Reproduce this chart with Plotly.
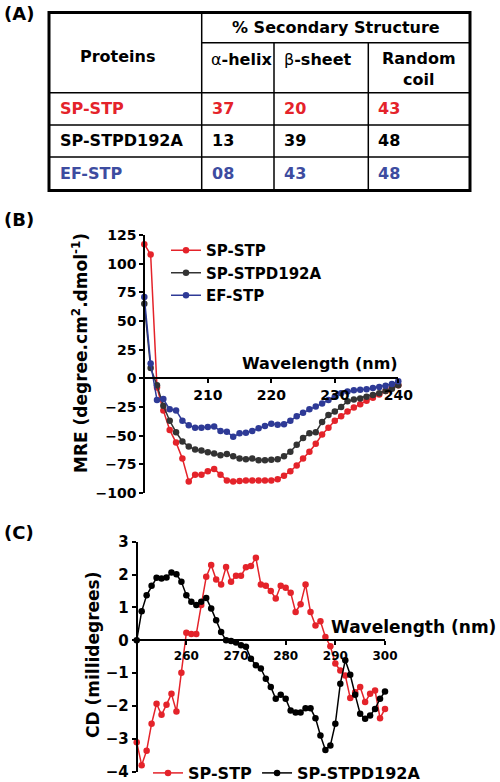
import plotly.graph_objects as go

# ---------------- data ----------------
# (A) table
proteins = ["SP-STP", "SP-STPD192A", "EF-STP"]
alpha_helix = ["37", "13", "08"]
beta_sheet = ["20", "39", "43"]
random_coil = ["43", "48", "48"]

# (B) far-UV CD, MRE
wl_b = list(range(200, 241))
sp_stp_b = [117, 108, -8, -28, -45, -56, -70, -90, -84, -84, -81, -79, -84, -89, -90, -89.5,
            -89, -89, -89, -89, -89, -88, -85, -81, -76, -70, -64, -57, -49, -43, -37, -33,
            -29, -25.5, -22.5, -19.5, -17, -14, -11, -8, -6]
sp_stpd_b = [65, 9, -6, -24, -37, -47, -55, -59.5, -62, -63, -64.5, -65.5, -67, -66, -68, -70,
             -70.5, -70, -71.5, -71.5, -71, -70.5, -68, -64, -58, -52, -48, -47, -38, -32, -29,
             -25, -20, -18.5, -17.5, -16, -14.5, -13, -11, -9, -6]
ef_stp_b = [71, 13, -19, -18, -27, -28, -37, -41, -43, -43, -42.5, -42, -46, -46.5, -51, -48,
            -47.5, -46, -43.5, -41.5, -39.5, -40.5, -40, -37, -33, -30, -27, -24.5, -22, -19,
            -16, -13, -11.5, -10.5, -10, -9.5, -8.5, -7.5, -6.5, -5, -2.5]

# (C) near-UV CD
wl_c = list(range(250, 301))
sp_stp_c = [-3.1, -3.8, -3.36, -2.54, -1.93, -2.27, -1.96, -1.63, -2.17, -0.99,
            0.23, 0.19, 0.19, 1.07, 1.93, 2.29, 1.85, 1.7, 2.23, 1.78,
            1.96, 1.96, 2.22, 2.26, 2.51, 1.7, 1.66, 1.5, 1.27, 1.66,
            1.6, 1.45, 0.86, 1.1, 1.7, 0.86, 0.45, 0.58, 0.1, -0.18,
            -0.71, -0.92, -1.07, -1.76, -1.58, -1.42, -1.88, -1.63, -1.53, -2.37, -2.09]
sp_stpd_c = [0.0, 0.88, 1.37, 1.66, 1.9, 1.88, 1.91, 2.06, 2.01, 1.78,
             1.37, 1.17, 1.07, 1.17, 1.29, 0.97, 0.61, 0.25, 0.0, -0.02,
             -0.07, -0.15, -0.2, -0.56, -0.76, -0.86, -1.17, -1.42, -1.78, -1.66,
             -1.78, -2.14, -2.2, -2.2, -2.07, -2.07, -2.37, -2.9, -3.34, -3.2,
             -2.54, -1.32, -0.61, -1.05, -1.66, -2.24, -2.39, -2.29, -2.09, -1.78, -1.56]

# ---------------- styling ----------------
W, H = 500, 782
RED = "#e4232a"
BLUE = "#2e3a96"
GREY = "#333333"
TBL_BLUE = "#3d4ca0"
FONT = "DejaVu Sans"


def px(x):
    return x / W


def py(y):
    return 1 - y / H


fig = go.Figure()

# ---------------- (B) traces ----------------
for name, ys, col in [("SP-STP", sp_stp_b, RED), ("SP-STPD192A", sp_stpd_b, GREY),
                      ("EF-STP", ef_stp_b, BLUE)]:
    fig.add_trace(go.Scatter(x=wl_b, y=ys, name=name, mode="lines+markers",
                             line=dict(color=col, width=1.5),
                             marker=dict(color=col, size=6.5),
                             xaxis="x", yaxis="y", legend="legend", cliponaxis=False))

# ---------------- (C) traces ----------------
for name, ys, col in [("SP-STP", sp_stp_c, RED), ("SP-STPD192A", sp_stpd_c, "#000000")]:
    fig.add_trace(go.Scatter(x=wl_c, y=ys, name=name, mode="lines+markers",
                             line=dict(color=col, width=1.5),
                             marker=dict(color=col, size=6.5),
                             xaxis="x2", yaxis="y2", legend="legend2", cliponaxis=False))

# axes geometry
b_y0, b_y1 = py(493), py(235)
b_rng = [-100, 125]
b_zero = b_y0 + (0 - b_rng[0]) / (b_rng[1] - b_rng[0]) * (b_y1 - b_y0)
c_y0, c_y1 = py(771.7), py(541.7)
c_rng = [-4, 3]
c_zero = c_y0 + (0 - c_rng[0]) / (c_rng[1] - c_rng[0]) * (c_y1 - c_y0)

axis_common = dict(showline=True, linecolor="black", linewidth=2, ticks="outside",
                   tickwidth=1.5, tickcolor="black", ticklen=4, showgrid=False,
                   zeroline=False, tickfont=dict(family=FONT, size=14, color="black",
                                                 weight="bold"))

fig.update_layout(
    xaxis=dict(axis_common, domain=[px(144.3), px(398.3)], range=[200, 240],
               tickvals=[210, 220, 230, 240], anchor="free", position=b_zero),
    yaxis=dict(axis_common, domain=[b_y0, b_y1], range=b_rng, dtick=25,
               anchor="free", position=px(144.3)),
    xaxis2=dict(axis_common, domain=[px(136.7), px(385)], range=[250, 300],
                tickvals=[260, 270, 280, 290, 300], anchor="free", position=c_zero,
                tickfont=dict(family=FONT, size=12, color="black", weight="bold")),
    yaxis2=dict(axis_common, domain=[c_y0, c_y1], range=c_rng, dtick=1,
                anchor="free", position=px(136.7),
                tickfont=dict(family=FONT, size=15, color="black", weight="bold")),
)

fig.update_layout(
    width=W, height=H, margin=dict(l=0, r=0, t=0, b=0, autoexpand=False),
    paper_bgcolor="white", plot_bgcolor="white",
    font=dict(family=FONT, size=14, color="black", weight="bold"),
    legend=dict(x=px(166), y=py(234), xanchor="left", yanchor="top",
                bgcolor="rgba(0,0,0,0)", font=dict(size=15), itemwidth=30,
                tracegroupgap=0),
    legend2=dict(orientation="h", x=px(148), y=py(773), xanchor="left",
                 yanchor="middle", bgcolor="rgba(0,0,0,0)", font=dict(size=16),
                 itemwidth=30),
)

ann = []


def note(x, y, text, size=16, xanchor="center", color="black", weight="bold", angle=0):
    ann.append(dict(x=px(x), y=py(y), xref="paper", yref="paper", xanchor=xanchor,
                    yanchor="middle", text=text, showarrow=False, textangle=angle,
                    font=dict(family=FONT, size=size, color=color, weight=weight)))


# axis titles
note(400, 363, "Wavelength (nm)", 16, "right")
note(498, 627, "Wavelength (nm)", 17, "right")
note(80, 353, "MRE (degree.cm<sup>2</sup>.dmol<sup>-1</sup>)", 17, angle=-90)
note(93, 655, "CD (millidegrees)", 17, angle=-90)
# panel labels
for lab, yy in [("(A)", 13), ("(B)", 219), ("(C)", 532)]:
    note(2, yy, lab, 18, "left")

# ---------------- (A) table ----------------
T_L, T_R, T_T, T_B = 49, 470, 12.5, 190.5
COLS = [201.7, 274, 368.3]
H1 = 42.7
ROWS = [92.7, 125, 157]
shapes = []
shapes.append(dict(type="rect", xref="paper", yref="paper", x0=px(T_L), x1=px(T_R),
                   y0=py(T_B), y1=py(T_T), line=dict(color="black", width=3)))
shapes.append(dict(type="line", xref="paper", yref="paper", x0=px(COLS[0]), x1=px(COLS[0]),
                   y0=py(T_T), y1=py(T_B), line=dict(color="black", width=1.5)))
for cx in COLS[1:]:
    shapes.append(dict(type="line", xref="paper", yref="paper", x0=px(cx), x1=px(cx),
                       y0=py(H1), y1=py(T_B), line=dict(color="black", width=1.5)))
shapes.append(dict(type="line", xref="paper", yref="paper", x0=px(COLS[0]), x1=px(T_R),
                   y0=py(H1), y1=py(H1), line=dict(color="black", width=1.5)))
for ry in ROWS:
    shapes.append(dict(type="line", xref="paper", yref="paper", x0=px(T_L), x1=px(T_R),
                       y0=py(ry), y1=py(ry), line=dict(color="black", width=1.5)))

note((COLS[0] + T_R) / 2, (T_T + H1) / 2, "% Secondary Structure")
note(118, 57, "Proteins")
note(COLS[0] + 7, 60, "α<b>-helix</b>", xanchor="left", weight="normal")
note(COLS[1] + 8, 60, "β<b>-sheet</b>", xanchor="left", weight="normal")
note((COLS[2] + T_R) / 2, 69, "Random<br>coil")

row_cols = [RED, "black", TBL_BLUE]
row_bounds = [ROWS[0], ROWS[1], ROWS[2], T_B]
for i in range(3):
    yc = (row_bounds[i] + row_bounds[i + 1]) / 2
    cells = [proteins[i], alpha_helix[i], beta_sheet[i], random_coil[i]]
    xs = [T_L + 9, COLS[0] + 8, COLS[1] + 8, COLS[2] + 8]
    for xv, txt in zip(xs, cells):
        note(xv, yc, txt, 16, "left", color=row_cols[i])

fig.update_layout(annotations=ann, shapes=shapes)
fig.write_html("out.html", config={"displayModeBar": False},
               post_script="document.body.style.margin='0';"
                           "document.body.style.overflow='hidden';")
